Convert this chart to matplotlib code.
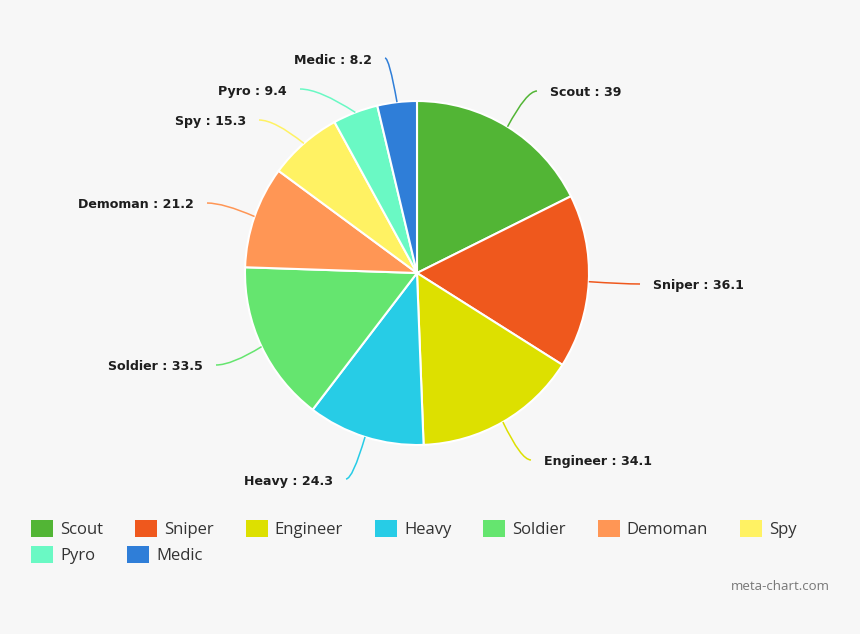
import numpy as np
import matplotlib
matplotlib.use("Agg")
import matplotlib.pyplot as plt
from matplotlib.path import Path
from matplotlib.patches import PathPatch, Rectangle

# data
classes = ["Scout", "Sniper", "Engineer", "Heavy", "Soldier", "Demoman", "Spy", "Pyro", "Medic"]
hours = [39, 36.1, 34.1, 24.3, 33.5, 21.2, 15.3, 9.4, 8.2]
hour_labels = ["39", "36.1", "34.1", "24.3", "33.5", "21.2", "15.3", "9.4", "8.2"]
colors = ["#52b535", "#ef581d", "#dde000", "#27cce6", "#65e56f",
          "#ff9655", "#fff263", "#6af9c4", "#2f7ed8"]

# layout (pixels, image coords from top): where each connector ends
label_anchor = [(537, 91), (640, 284), (531, 460), (346, 479), (216, 365),
                (207, 203), (259, 120), (300, 89), (385, 58)]

W, H = 860, 634
BG = "#f7f7f7"
CX, CY, R = 417, 273, 172

fig = plt.figure(figsize=(W / 100, H / 100), dpi=100, facecolor=BG)
ax = fig.add_axes([0, 0, 1, 1])
ax.set_xlim(0, W)
ax.set_ylim(0, H)
ax.set_aspect("equal")
ax.axis("off")

wedges, _ = ax.pie(hours, colors=colors, startangle=90, counterclock=False,
                   center=(CX, H - CY), radius=R,
                   wedgeprops=dict(edgecolor="white", linewidth=1.5))
ax.set_xlim(0, W)
ax.set_ylim(0, H)

for w, name, lab, (ex, ey), col in zip(wedges, classes, hour_labels, label_anchor, colors):
    mid = np.deg2rad((w.theta1 + w.theta2) / 2)
    sx = CX + R * np.cos(mid)
    sy = H - CY + R * np.sin(mid)
    ey = H - ey
    side = 1 if ex > CX else -1
    ctrl = (sx + 0.65 * (ex - sx), ey)
    path = Path([(sx, sy), ctrl, (ex, ey)], [Path.MOVETO, Path.CURVE3, Path.CURVE3])
    ax.add_patch(PathPatch(path, fc="none", ec=col, lw=1.1))
    ax.text(ex + side * 13, ey - 2, f"{name} : {lab}", ha="left" if side > 0 else "right",
            va="center", fontsize=9.1, fontweight="bold", color="#1e1e1e",
            family="DejaVu Sans")

# legend, laid out in rows like the original
fig.canvas.draw()
renderer = fig.canvas.get_renderer()
x0, x, row_y = 31, 31, 528
for name, col in zip(classes, colors):
    t = ax.text(0, 0, name, fontsize=12, color="#333333", family="Open Sans",
                va="center", ha="left")
    tw = t.get_window_extent(renderer).width
    if x + 29 + tw > W - 20:
        x = x0
        row_y += 26
    ax.add_patch(Rectangle((x, H - row_y - 8.5), 22, 17, fc=col, ec="none"))
    t.set_position((x + 29, H - row_y - 2))
    x = x + 29 + tw + 32

ax.text(830, H - 587, "meta-chart.com", ha="right", va="center", fontsize=9.5,
        color="#777777", family="Open Sans")

fig.savefig("out.png", dpi=100, facecolor=BG)
